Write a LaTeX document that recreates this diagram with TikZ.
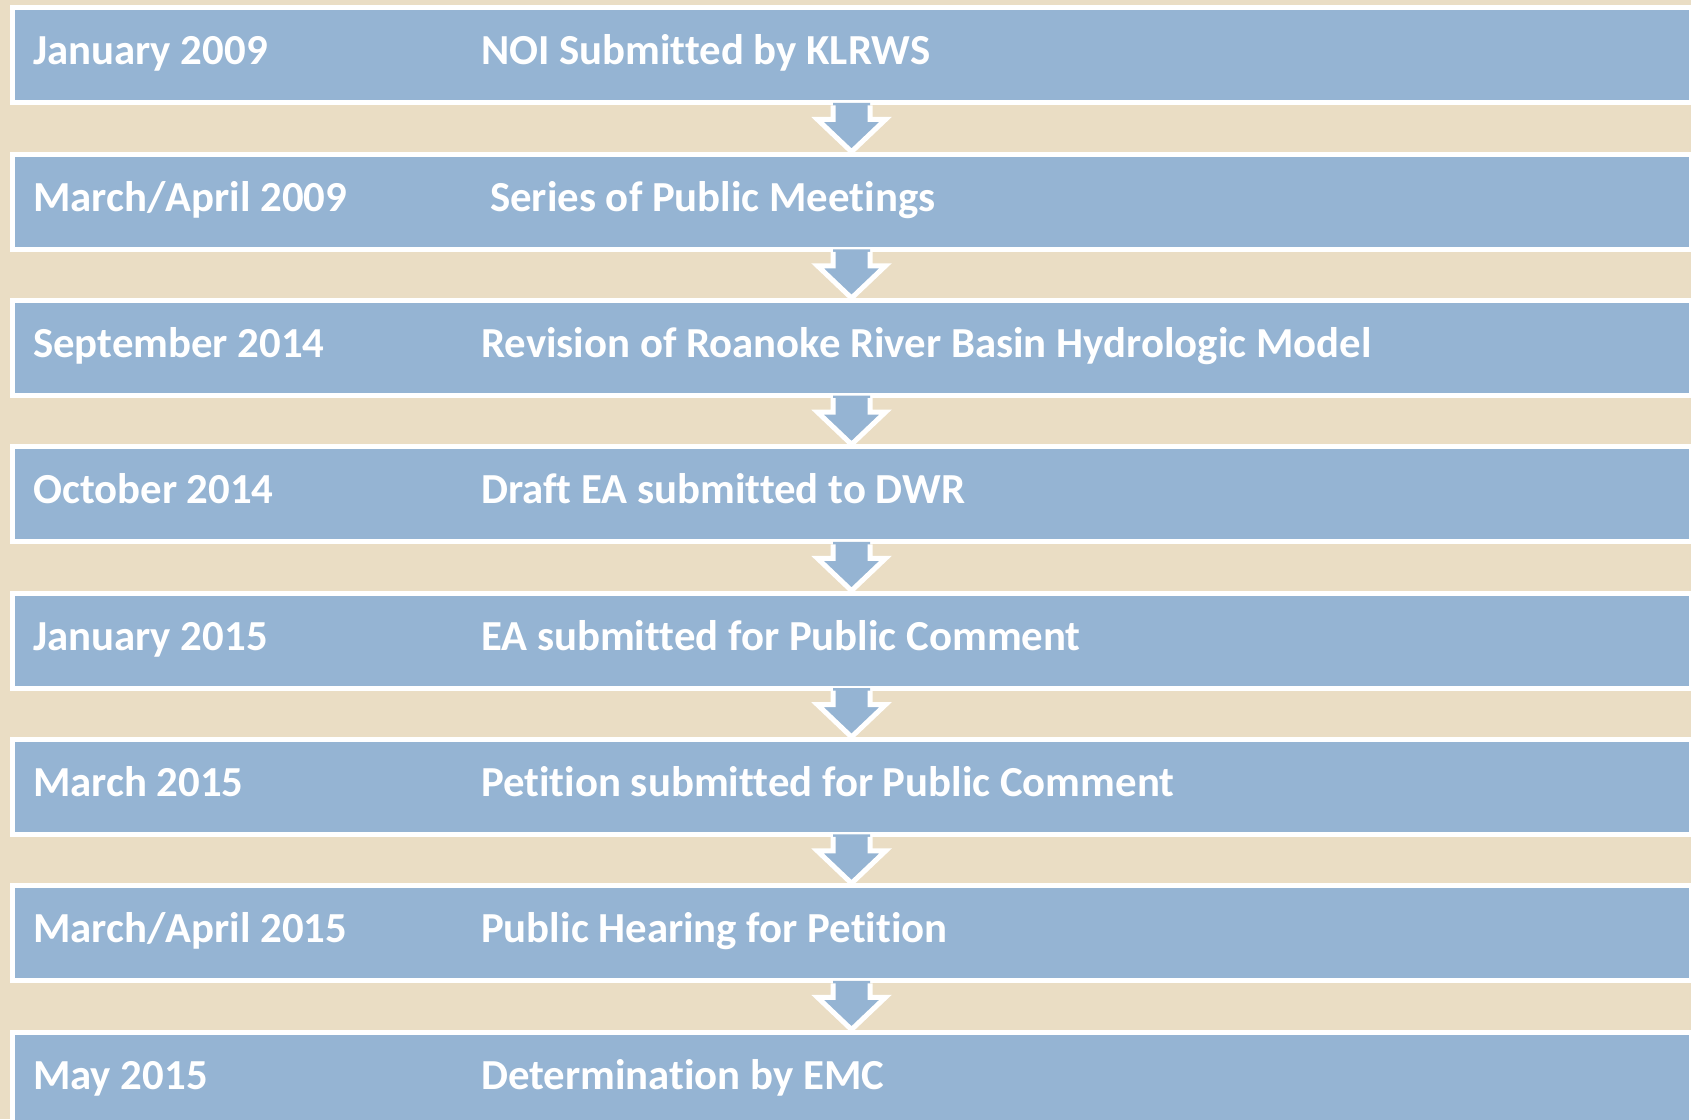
\documentclass[tikz,border=0pt]{standalone}
\usepackage{fontspec}
\setmainfont{Carlito}[Ligatures=NoCommon]
\usetikzlibrary{calc}
\definecolor{bg}{RGB}{234,221,196}
\definecolor{boxblue}{RGB}{149,180,211}
\begin{document}
\begin{tikzpicture}[x=1pt,y=1pt,
  stage/.style={draw=white, line width=5pt, fill=boxblue, minimum width=1679pt, minimum height=95pt, inner sep=0pt, anchor=north west},
  lbl/.style={text=white, font=\fontsize{42.8}{50}\selectfont\bfseries, anchor=base west, inner sep=0pt},
  flowfill/.style={fill=boxblue},
  flowline/.style={draw=white, line width=5pt, line join=miter}]
\fill[bg] (0,0) rectangle (1691,1119);
\useasboundingbox (0,0) rectangle (1691,1119);
\foreach \i/\d/\e/\ex in {
  1/January 2009/NOI Submitted by KLRWS/471.5,
  2/March\slash April 2009/Series of Public Meetings/480.5,
  3/September 2014/Revision of Roanoke River Basin Hydrologic Model/471.5,
  4/October 2014/Draft EA submitted to DWR/471.5,
  5/January 2015/EA submitted for Public Comment/471.5,
  6/March 2015/Petition submitted for Public Comment/471.5,
  7/March\slash April 2015/Public Hearing for Petition/471.5,
  8/May 2015/Determination by EMC/471.5}{
  \node[stage] (b\i) at (9.5, {1119-3-2.5-146.3*(\i-1)}) {};
  \node[lbl] (d\i) at ($(b\i.north west)+(23.5,-59.5)$) {\d};
  \node[lbl] (e\i) at ($(b\i.north west)+(\ex,-59.5)$) {\e};
}
\foreach \i [evaluate=\i as \j using int(\i+1)] in {1,...,7}{
  \fill[flowfill] ($(b\i.south)+(-18.5,2.5)$) -- ($(b\i.south)+(-18.5,-14)$) -- ($(b\i.south)+(-34,-14)$)
     -- (b\j.north) -- ($(b\i.south)+(34,-14)$) -- ($(b\i.south)+(18.5,-14)$) -- ($(b\i.south)+(18.5,2.5)$) -- cycle;
  \draw[flowline] ($(b\i.south)+(-18.5,0)$) -- ($(b\i.south)+(-18.5,-14)$) -- ($(b\i.south)+(-34,-14)$)
     -- (b\j.north) -- ($(b\i.south)+(34,-14)$) -- ($(b\i.south)+(18.5,-14)$) -- ($(b\i.south)+(18.5,0)$);
}
\end{tikzpicture}
\end{document}
